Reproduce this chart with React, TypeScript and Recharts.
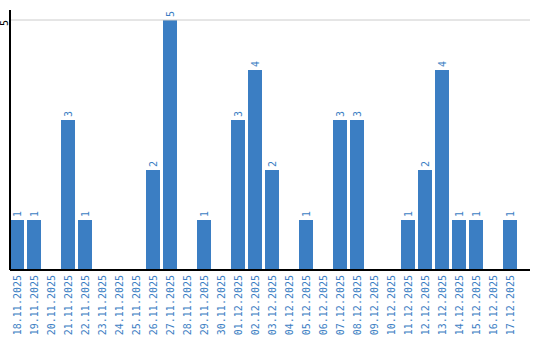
import React from 'react';
import { BarChart, Bar, XAxis, YAxis, ReferenceLine, LabelList } from 'recharts';

const dates = [
  '18.11.2025', '19.11.2025', '20.11.2025', '21.11.2025', '22.11.2025',
  '23.11.2025', '24.11.2025', '25.11.2025', '26.11.2025', '27.11.2025',
  '28.11.2025', '29.11.2025', '30.11.2025', '01.12.2025', '02.12.2025',
  '03.12.2025', '04.12.2025', '05.12.2025', '06.12.2025', '07.12.2025',
  '08.12.2025', '09.12.2025', '10.12.2025', '11.12.2025', '12.12.2025',
  '13.12.2025', '14.12.2025', '15.12.2025', '16.12.2025', '17.12.2025',
];
const counts = [1, 1, 0, 3, 1, 0, 0, 0, 2, 5, 0, 1, 0, 3, 4, 2, 0, 1, 0, 3, 3, 0, 0, 1, 2, 4, 1, 1, 0, 1];
const yTicks = [5];

const data = dates.map((date, i) => ({ date, count: counts[i] }));

const BLUE = '#3b7ec3';
const FONT = '"DejaVu Sans Mono", monospace';

// tick y from recharts already includes tickSize + tickMargin (~8px below the axis)
const DateTick = (props: any) => {
  const { x, y, payload } = props;
  const ty = y - 3;
  return (
    <text
      x={x}
      y={ty}
      transform={`rotate(-90, ${x}, ${ty})`}
      textAnchor="end"
      dominantBaseline="central"
      fill={BLUE}
      fontSize={10}
      fontFamily={FONT}
    >
      {payload.value}
    </text>
  );
};

const CountTick = (props: any) => {
  const { y, payload } = props;
  return (
    <text
      x={4}
      y={y + 3}
      transform={`rotate(-90, 4, ${y + 3})`}
      textAnchor="middle"
      dominantBaseline="central"
      fill="#000"
      fontSize={10}
      fontFamily={FONT}
    >
      {payload.value}
    </text>
  );
};

const ValueLabel = (props: any) => {
  const { x, y, width, value } = props;
  if (!value) return null;
  const cx = x + width / 2;
  const cy = y - 3;
  return (
    <text
      x={cx}
      y={cy}
      transform={`rotate(-90, ${cx}, ${cy})`}
      textAnchor="start"
      dominantBaseline="central"
      fill={BLUE}
      fontSize={10}
      fontFamily={FONT}
    >
      {value}
    </text>
  );
};

export default function App() {
  return (
    <div style={{ position: 'absolute', left: 0, top: 0, width: 540, height: 340, background: '#fff' }}>
      <BarChart
        width={540}
        height={340}
        data={data}
        margin={{ top: 10, right: 10, bottom: 0, left: 0 }}
        barCategoryGap={1.5}
      >
        <ReferenceLine y={yTicks[0]} stroke="#cccccc" />
        <XAxis
          dataKey="date"
          interval={0}
          height={70}
          padding={{ left: -1.5, right: 11.5 }}
          tickLine={false}
          axisLine={{ stroke: '#000', strokeWidth: 2 }}
          tick={<DateTick />}
        />
        <YAxis
          width={10}
          domain={[0, 5.2]}
          ticks={yTicks}
          tickLine={false}
          axisLine={{ stroke: '#000', strokeWidth: 2 }}
          tick={<CountTick />}
        />
        <Bar dataKey="count" fill={BLUE} isAnimationActive={false}>
          <LabelList dataKey="count" content={<ValueLabel />} />
        </Bar>
      </BarChart>
    </div>
  );
}
